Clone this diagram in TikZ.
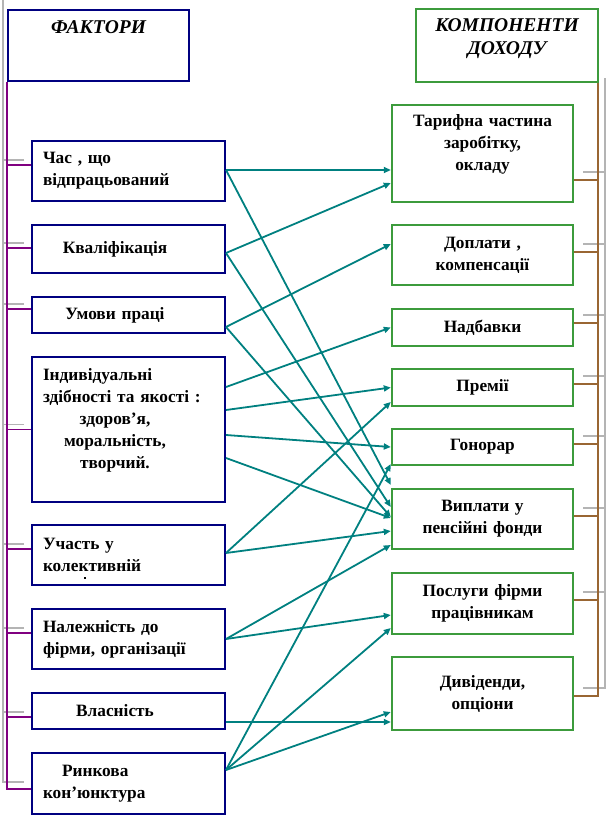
\documentclass[tikz,border=0pt]{standalone}
\usepackage{fontspec}
\setmainfont{Liberation Serif}
\usetikzlibrary{arrows.meta}

\definecolor{navyline}{RGB}{0,0,128}
\definecolor{greenline}{RGB}{60,155,60}
\definecolor{tealline}{RGB}{0,128,128}
\definecolor{purpleline}{RGB}{128,0,128}
\definecolor{brownline}{RGB}{153,102,51}
\definecolor{shadeline}{RGB}{180,180,180}
\newcommand{\midline}[1]{\makebox[144pt][c]{#1}}

\begin{document}
\begin{tikzpicture}[x=1pt,y=-1pt,
  factor node/.style={rectangle,draw=navyline,line width=2pt,fill=white,minimum width=193pt,inner sep=2pt,text width=171pt,align=left,font=\bfseries\fontsize{17.3}{22}\selectfont},
  part node/.style={rectangle,draw=greenline,line width=2.4pt,fill=white,minimum width=181pt,inner sep=2pt,text width=172pt,align=center,font=\bfseries\fontsize{17.3}{22}\selectfont},
  head font/.style={font=\bfseries\itshape\fontsize{19.5}{23}\selectfont},
  link/.style={color=tealline,line width=1.8pt,-{Triangle[length=7pt,width=6pt]}},
  bar/.style={line width=1.6pt}]

  \useasboundingbox (0,0) rectangle (607,817);

  % factors
  \node[factor node,minimum width=181pt,minimum height=71pt,text width=170pt,align=center,head font] (fh) at (98.5,45.5) {ФАКТОРИ\\[14pt] \mbox{}};
  \node[factor node,minimum height=60pt] (f1) at (128.5,171) {Час , що\\відпрацьований};
  \node[factor node,minimum height=48pt] (f2) at (128.5,249) {\midline{Кваліфікація}};
  \node[factor node,minimum height=36pt] (f3) at (128.5,315) {\midline{Умови праці}};
  \node[factor node,minimum height=145pt] (f4) at (128.5,429.5) {Індивідуальні\\здібності та якості :\\\midline{здоров’я,}\\\midline{моральність,}\\\midline{творчий.}\\ \mbox{}};
  \node[factor node,minimum height=60pt] (f5) at (128.5,555) {Участь у\\колективній};
  \node[inner sep=0pt,fill=black,minimum size=2pt] (f5cut) at (85,578) {};
  \node[factor node,minimum height=60pt] (f6) at (128.5,639) {Належність до\\фірми, організації};
  \node[factor node,minimum height=36pt] (f7) at (128.5,711) {\midline{Власність}};
  \node[factor node,minimum height=61pt] (f8) at (128.5,783.5) {\hspace*{19pt}Ринкова\\кон’юнктура};

  % components
  \node[part node,minimum width=182pt,minimum height=73pt,head font] (ch) at (507,45.5) {КОМПОНЕНТИ\\ДОХОДУ\\[-5pt] \mbox{}};
  \node[part node,minimum height=97pt] (c1) at (482.5,153.5) {Тарифна частина\\заробітку,\\окладу\\ \mbox{}};
  \node[part node,minimum height=60pt] (c2) at (482.5,255) {Доплати ,\\компенсації};
  \node[part node,minimum height=37pt] (c3) at (482.5,327.5) {Надбавки};
  \node[part node,minimum height=37pt] (c4) at (482.5,387.5) {Премії};
  \node[part node,minimum height=36pt] (c5) at (482.5,447) {Гонорар};
  \node[part node,minimum height=60pt] (c6) at (482.5,519) {Виплати у\\пенсійні фонди};
  \node[part node,minimum height=61pt] (c7) at (482.5,603.5) {Послуги фірми\\працівникам};
  \node[part node,minimum height=73pt] (c8) at (482.5,693.5) {Дивіденди,\\опціони};

  % left bracket
  \draw[shadeline,bar] ([xshift=-4pt,yshift=10pt]fh.north west) -- ++(0,783) -- ++(21,0);
  \foreach \n/\s in {f1/6,f2/1,f3/6,f4/0,f5/6,f6/6,f7/-6}
    \draw[shadeline,bar] ([xshift=-7pt,yshift=\s pt+5pt]\n.west) -- ++(-21,0);
  \draw[purpleline,bar] (fh.south west) -- ++(0,707) -- ++(24,0);
  \foreach \n/\s in {f1/6,f2/1,f3/6,f4/0,f5/6,f6/6,f7/-6}
    \draw[purpleline,bar] ([yshift=\s pt]\n.west) -- ++(-24,0);

  % right bracket
  \draw[shadeline,bar] ([xshift=6pt,yshift=5pt]ch.south east) -- ++(0,610) -- ++(-22,0);
  \foreach \n/\s in {c1/-26.5,c2/3,c3/4.5,c4/3.5,c5/3,c6/3,c7/3.5}
    \draw[shadeline,bar] ([xshift=9pt,yshift=\s pt+8pt]\n.east) -- ++(22,0);
  \draw[brownline,line width=2pt] ([xshift=-1pt]ch.south east) -- ++(0,613) -- ++(-24,0);
  \foreach \n/\s in {c1/-26.5,c2/3,c3/4.5,c4/3.5,c5/3,c6/3,c7/3.5}
    \draw[brownline,line width=2pt] ([yshift=\s pt]\n.east) -- ++(24,0);

  \path[link]
   ([yshift=1pt]f1.east) edge[line width=2.6pt] ([yshift=-16.5pt]c1.west)
   ([yshift=1pt]f1.east) edge ([yshift=34pt]c6.west)
   ([yshift=-4pt]f2.east) edge ([yshift=-29.5pt]c1.west)
   ([yshift=-4pt]f2.east) edge ([yshift=12pt]c6.west)
   ([yshift=-12pt]f3.east) edge ([yshift=11pt]c2.west)
   ([yshift=-12pt]f3.east) edge ([yshift=2pt]c6.west)
   ([yshift=42.5pt]f4.east) edge (c3.west)
   ([yshift=19.5pt]f4.east) edge (c4.west)
   ([yshift=-5.5pt]f4.east) edge (c5.west)
   ([yshift=-28.5pt]f4.east) edge ([yshift=1pt]c6.west)
   ([yshift=2pt]f5.east) edge ([yshift=-14.5pt]c4.west)
   ([yshift=2pt]f5.east) edge ([yshift=-12pt]c6.west)
   (f6.east) edge ([yshift=-26pt]c6.west)
   (f6.east) edge ([yshift=-11.5pt]c7.west)
   ([yshift=-11pt]f7.east) edge[line width=2.6pt] ([yshift=-28.5pt]c8.west)
   ([yshift=13.5pt]f8.east) edge ([yshift=-17pt]c5.west)
   ([yshift=13.5pt]f8.east) edge ([yshift=-24.5pt]c7.west)
   ([yshift=13.5pt]f8.east) edge ([yshift=-18.5pt]c8.west);
\end{tikzpicture}
\end{document}
